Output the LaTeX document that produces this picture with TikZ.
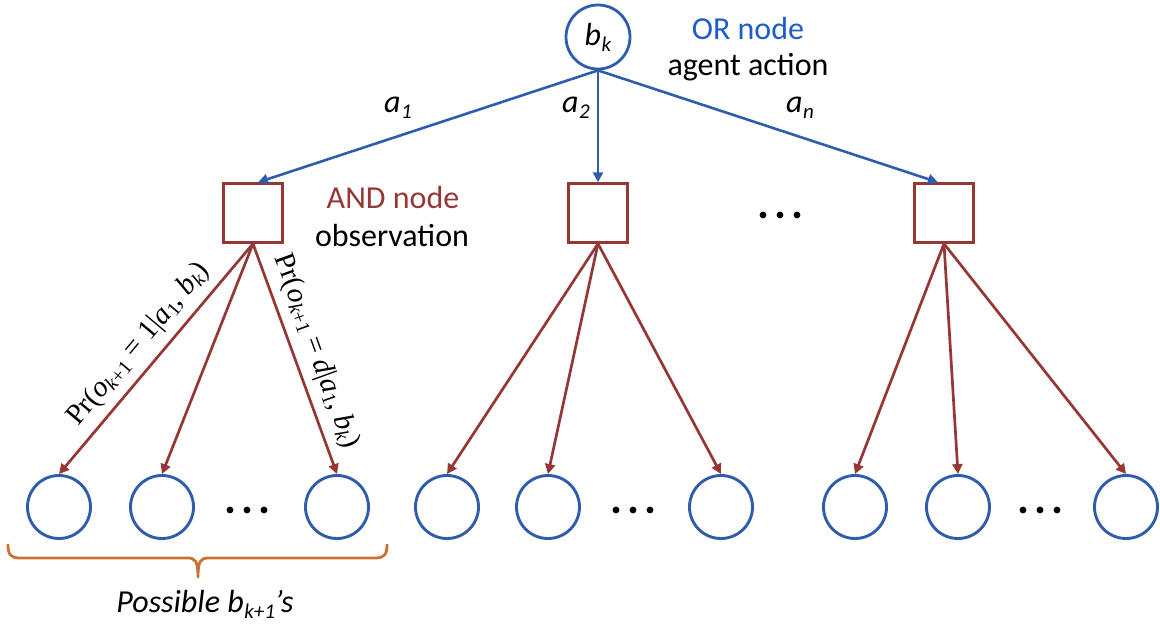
\documentclass[tikz,border=0pt]{standalone}
\usepackage{fontspec}
\setmainfont{Carlito}
\newfontfamily\prfont{Liberation Serif}
\usetikzlibrary{arrows.meta}
\definecolor{orblue}{RGB}{47,93,172}
\definecolor{ortext}{RGB}{30,92,200}
\definecolor{andred}{RGB}{149,55,53}
\definecolor{braceorange}{RGB}{205,112,52}
% italic letter with a lowered italic index
\newcommand\isub[2]{\textit{#1}\kern0.5pt\raisebox{-0.38ex}{\fontsize{21}{23}\selectfont\textit{#2}}}
% lowered index for the probability labels
\newcommand\psub[1]{\raisebox{-0.3ex}{\fontsize{20}{22}\selectfont #1}}
\begin{document}
\begin{tikzpicture}[x=1pt,y=-1pt,
  font=\fontsize{32}{36}\selectfont,
  ornode/.style={circle,draw=orblue,line width=2.8pt,minimum size=64pt,inner sep=0pt},
  andnode/.style={rectangle,draw=andred,line width=2.4pt,minimum size=59pt,inner sep=0pt},
  leafnode/.style={circle,draw=orblue,line width=2.9pt,minimum size=63pt,inner sep=0pt},
  actarrow/.style={draw=orblue,line width=2.6pt,-{Triangle[length=10pt,width=10pt]}},
  obsarrow/.style={draw=andred,line width=2.7pt,-{Triangle[length=10pt,width=10pt]}},
  problabel/.style={sloped,above=8pt,inner sep=0pt,font=\prfont\fontsize{29}{31}\selectfont},
  dotmark/.style={fill=black,draw=none},
  brace/.style={draw=braceorange,line width=2.8pt,line join=round}]
\useasboundingbox (0,0) rectangle (1160,627);

% OR node (agent action)
\node[ornode] (r) at (598,37) {\isub{b}{k}};
\node[text=ortext] (orlbl) at (748,28) {OR node};
\node (actlbl) at (748,67) {agent action};

% AND nodes (observation)
\node[andnode] (a1) at (253,213) {};
\node[andnode] (a2) at (598,213) {};
\node[andnode] (a3) at (944,213) {};
\node[text=andred] (andlbl) at (393,197) {AND node};
\node (obslbl) at (392,236) {observation};

% actions
\draw[actarrow] (r.south) -- ([xshift=5pt]a1.north);
\draw[actarrow] (r.south) -- (a2.north);
\draw[actarrow] (r.south) -- ([xshift=-6pt]a3.north);
\node (act1) at (398,108) {\isub{a}{1}};
\node (act2) at (576,108) {\isub{a}{2}};
\node (actn) at (800,108) {\isub{a}{n}};

% dots between AND nodes
\foreach \x in {763,780,797} \fill[dotmark] (\x,215) circle (3.4);

% leaf belief nodes
\foreach \n/\x in {l11/59,l12/162,l13/337,l21/447,l22/548,l23/721,l31/855,l32/958,l33/1126}
  \node[leafnode] (\n) at (\x,507) {};
\foreach \x in {230,247,264,616,633,650,1023,1040,1057} \fill[dotmark] (\x,510) circle (3.4);

% observations
\draw[obsarrow] (a1.south) -- node[problabel]
  {Pr(\textit{o}\psub{\textit{k}+1} = 1|\textit{a}\psub{1}, \textit{b}\psub{\textit{k}})} (l11.north);
\draw[obsarrow] (a1.south) -- (l12.north);
\draw[obsarrow] (a1.south) -- node[problabel]
  {Pr(\textit{o}\psub{\textit{k}+1} = \textit{d}|\textit{a}\psub{1}, \textit{b}\psub{\textit{k}})} (l13.north);
\draw[obsarrow] (a2.south) -- (l21.north);
\draw[obsarrow] (a2.south) -- (l22.north);
\draw[obsarrow] (a2.south) -- (l23.north);
\draw[obsarrow] (a3.south) -- (l31.north);
\draw[obsarrow] (a3.south) -- (l32.north);
\draw[obsarrow] (a3.south) -- (l33.north);

% brace under the first group
\draw[brace] (8,544) .. controls (8,554) and (10,558) .. (20,558) -- (188,558)
  .. controls (195,558) and (198,561) .. (198,577)
  .. controls (198,561) and (201,558) .. (208,558) -- (375,558)
  .. controls (385,558) and (387,554) .. (387,544);
\node (poss) at (205,604) {\textit{Possible} \isub{b}{k+1}\textit{’s}};
\end{tikzpicture}
\end{document}
